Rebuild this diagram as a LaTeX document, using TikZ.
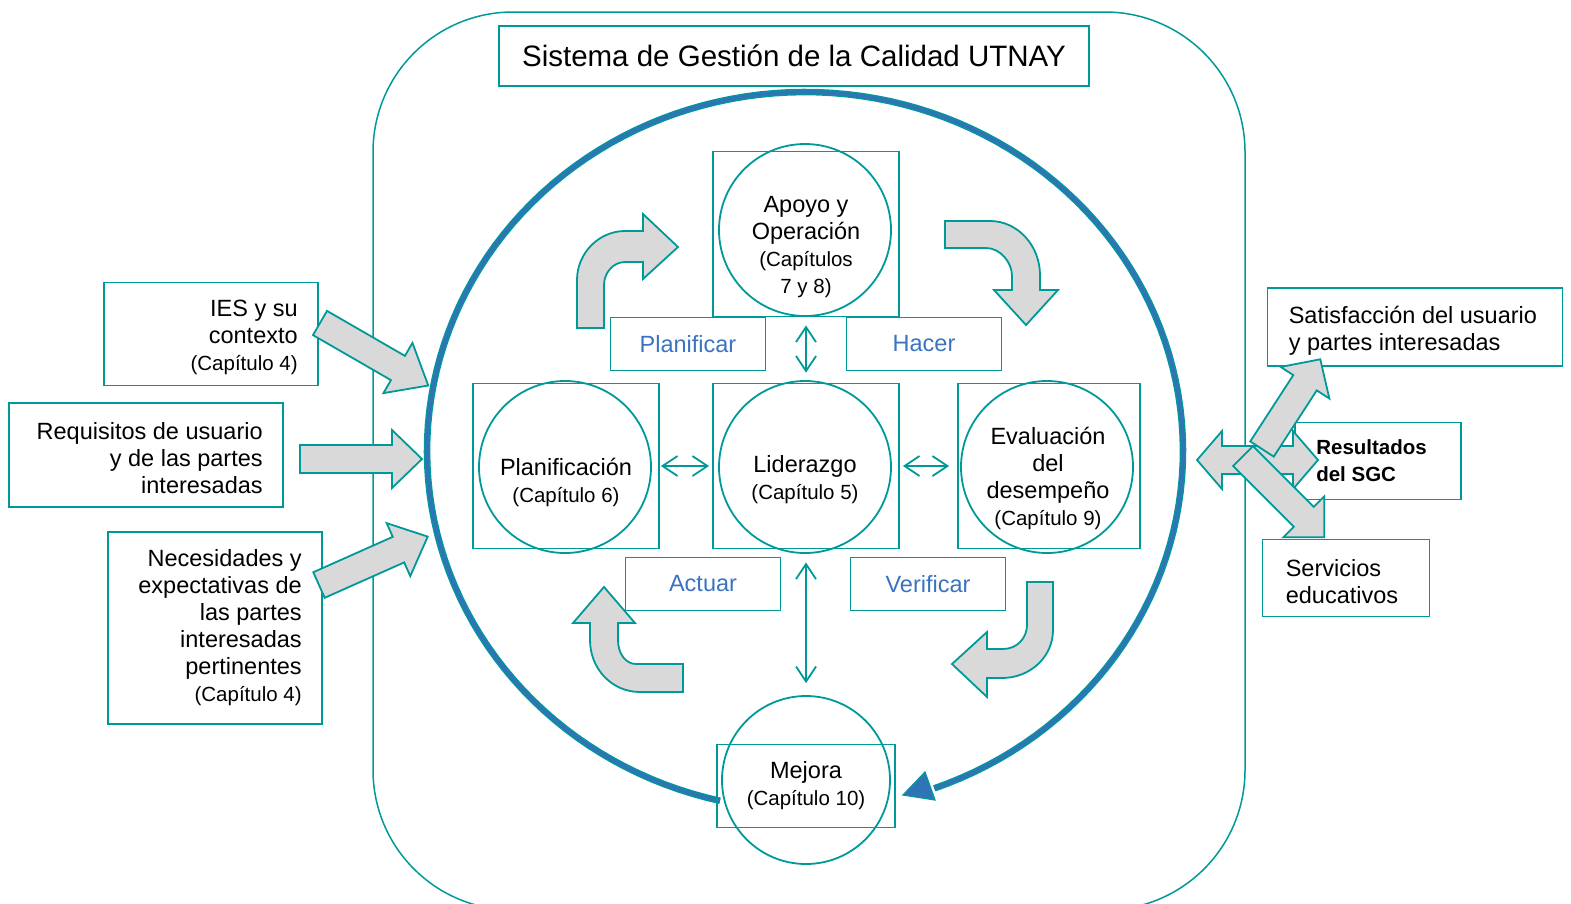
\documentclass[tikz,border=0pt]{standalone}
\usepackage{fontspec}
\setmainfont{Liberation Sans}
\usetikzlibrary{arrows.meta}
\definecolor{tealc}{RGB}{0,153,153}
\definecolor{ringblue}{RGB}{46,117,182}
\definecolor{pdcablue}{RGB}{59,115,192}
\definecolor{arrowgray}{RGB}{217,217,217}
\newcommand{\txtbig}{\fontsize{23.5}{27}\selectfont}
\newcommand{\txtsmall}{\fontsize{20.5}{25}\selectfont}
% straight block arrow: start, angle, length, head length
\newcommand{\blockarrow}[4]{%
  \draw[grayarrow,shift={#1},rotate=#2] (0,-14) -- ({#3-#4},-14) -- ({#3-#4},-29) -- (#3,0)
    -- ({#3-#4},29) -- ({#3-#4},14) -- (0,14) -- cycle;}
\tikzset{
  box/.style={draw=tealc, line width=1.8pt, inner sep=0pt},
  ring node/.style={circle, draw=tealc, line width=1.8pt, inner sep=0pt, minimum size=172pt},
  txt/.style={inner sep=0pt, font=\txtbig},
  pdca/.style={box, text=pdcablue, font=\txtbig, minimum width=155pt, minimum height=53pt},
  link/.style={tealc, line width=1.8pt, {Straight Barb[length=15pt,width=20pt]}-{Straight Barb[length=15pt,width=20pt]}},
  grayarrow/.style={draw=tealc, fill=arrowgray, line width=1.8pt, line join=miter},
  cycleline/.style={draw=tealc, double=ringblue, double distance=4pt, line width=1.3pt, line join=round},
}

\begin{document}
\begin{tikzpicture}[x=1pt,y=-1pt]
\useasboundingbox (0,0) rectangle (1571,903);

% frame and title
\draw[tealc, line width=1.5pt, rounded corners=140pt] (373,12) rectangle (1245,910);
\node[box, minimum width=590pt, minimum height=60pt, font=\fontsize{29.5}{34}\selectfont] (title) at (794,56) {Sistema de Gestión de la Calidad UTNAY};

% the big cycle
\draw[cycleline] plot[domain=103:430, samples=150] ({805+378*cos(\x)},{451+359*sin(\x)});
\draw[tealc, fill=ringblue, line width=1.2pt] (903,795) -- (925,772) -- (935,800) -- cycle;

% chapters
\node[box, minimum width=186pt, minimum height=165pt] (apoyoSq) at (806,234) {};
\node[ring node] (apoyo) at (805,230) {};
\node[txt, align=center] (apoyoTxt) at (806,247) {Apoyo y\\Operación\\\txtsmall(Capítulos\\\txtsmall 7 y 8)};

\node[box, minimum width=186pt, minimum height=165pt] (planSq) at (566,466) {};
\node[ring node] (plan) at (565,467) {};
\node[txt, align=center] (planTxt) at (566,482) {Planificación\\\txtsmall(Capítulo 6)};

\node[box, minimum width=186pt, minimum height=165pt] (liderSq) at (806,466) {};
\node[ring node] (lider) at (805,467) {};
\node[txt, align=center] (liderTxt) at (805,480) {Liderazgo\\\txtsmall(Capítulo 5)};

\node[box, minimum width=182pt, minimum height=165pt] (evalSq) at (1049,466) {};
\node[ring node] (eval) at (1047,467) {};
\node[txt, align=center] (evalTxt) at (1048,478) {Evaluación\\del\\desempeño\\\txtsmall(Capítulo 9)};

\node[box, minimum width=178pt, minimum height=83pt] (mejoraSq) at (806,786) {};
\node[ring node, minimum size=168pt] (mejora) at (806,780) {};
\node[txt, align=center] (mejoraTxt) at (806,786) {Mejora\\\txtsmall(Capítulo 10)};

% PDCA
\node[pdca] (planificar) at (688,344) {Planificar};
\node[pdca] (hacer) at (924,344) {Hacer};
\node[pdca] (actuar) at (703,584) {Actuar};
\node[pdca] (verificar) at (928,584) {Verificar};

\draw[link, shorten <=8pt, shorten >=10pt] (apoyoSq.south) -- (liderSq.north);
\draw[link, shorten <=1pt, shorten >=3pt] (planSq.east) -- (liderSq.west);
\draw[link, shorten <=3pt, shorten >=8pt] (liderSq.east) -- (evalSq.west);
\draw[link, shorten <=13pt, shorten >=12pt] (liderSq.south) -- (mejora.north);

% curved arrows
\draw[grayarrow] (577,328) -- (577,280) .. controls (577,253) and (599,231) .. (625,231) -- (643,231) -- (643,214) -- (678,247)
  -- (643,279) -- (643,262) -- (625,262) .. controls (613,262) and (604,273) .. (604,285) -- (604,328) -- cycle;
\draw[grayarrow] (945,221) -- (990,221) .. controls (1018,221) and (1040,246) .. (1040,275) -- (1040,290) -- (1058,290) -- (1026,325)
  -- (994,290) -- (1012,290) -- (1012,276) .. controls (1012,262) and (1000,248) .. (986,248) -- (945,248) -- cycle;
\draw[grayarrow] (683,664) -- (636,664) .. controls (626,664) and (618,654) .. (618,640) -- (618,623) -- (635,623) -- (604,587)
  -- (573,623) -- (590,623) -- (590,640) .. controls (590,669) and (612,692) .. (640,692) -- (683,692) -- cycle;
\draw[grayarrow] (1027,582) -- (1053,582) -- (1053,630) .. controls (1053,657) and (1030,678) .. (1002,678) -- (987,678) -- (987,697)
  -- (952,664) -- (987,632) -- (987,649) -- (1003,649) .. controls (1017,649) and (1027,638) .. (1027,625) -- cycle;

% inputs
\node[box, minimum width=214pt, minimum height=103pt] (ies) at (211,334) {};
\node[txt, align=right, anchor=east] (iesTxt) at ([xshift=-21pt,yshift=-3.5pt]ies.east) {IES y su\\contexto\\\txtsmall(Capítulo 4)};
\node[box, minimum width=274pt, minimum height=104pt] (req) at (146,455) {};
\node[txt, align=right, anchor=east] (reqTxt) at ([xshift=-21pt,yshift=-3pt]req.east) {Requisitos de usuario\\y de las partes\\interesadas};
\node[box, minimum width=214pt, minimum height=192pt] (nec) at (215,628) {};
\node[txt, align=right, anchor=east] (necTxt) at ([xshift=-21pt]nec.east) {Necesidades y\\expectativas de\\las partes\\interesadas\\pertinentes\\\txtsmall(Capítulo 4)};

\blockarrow{(320,323)}{-30}{125}{35}
\blockarrow{(300,459)}{0}{122}{30}
\blockarrow{(319,585)}{24}{119}{32}

% outputs
\node[box, minimum width=295pt, minimum height=78pt] (satis) at (1415,327) {};
\node[txt, align=left, anchor=west] (satisTxt) at ([xshift=22pt,yshift=-3.5pt]satis.west) {Satisfacción del usuario\\y partes interesadas};
\node[box, minimum width=166pt, minimum height=77pt] (result) at (1378,461) {};
\node[txt, align=left, anchor=west, font=\bfseries\fontsize{20.5}{27}\selectfont] (resultTxt) at ([xshift=22pt]result.west) {Resultados\\del SGC};
\node[box, minimum width=167pt, minimum height=77pt] (serv) at (1346,578) {};
\node[txt, align=left, anchor=west] (servTxt) at ([xshift=24pt,yshift=-3.5pt]serv.west) {Servicios\\educativos};

\draw[grayarrow] (1197,460) -- (1222,431) -- (1222,446) -- (1293,446) -- (1293,431) -- (1318,460) -- (1293,489) -- (1293,474)
  -- (1222,474) -- (1222,489) -- cycle;
\blockarrow{(1262,449)}{57}{107}{28}
\blockarrow{(1243,456)}{-45}{115}{29}
\end{tikzpicture}
\end{document}
